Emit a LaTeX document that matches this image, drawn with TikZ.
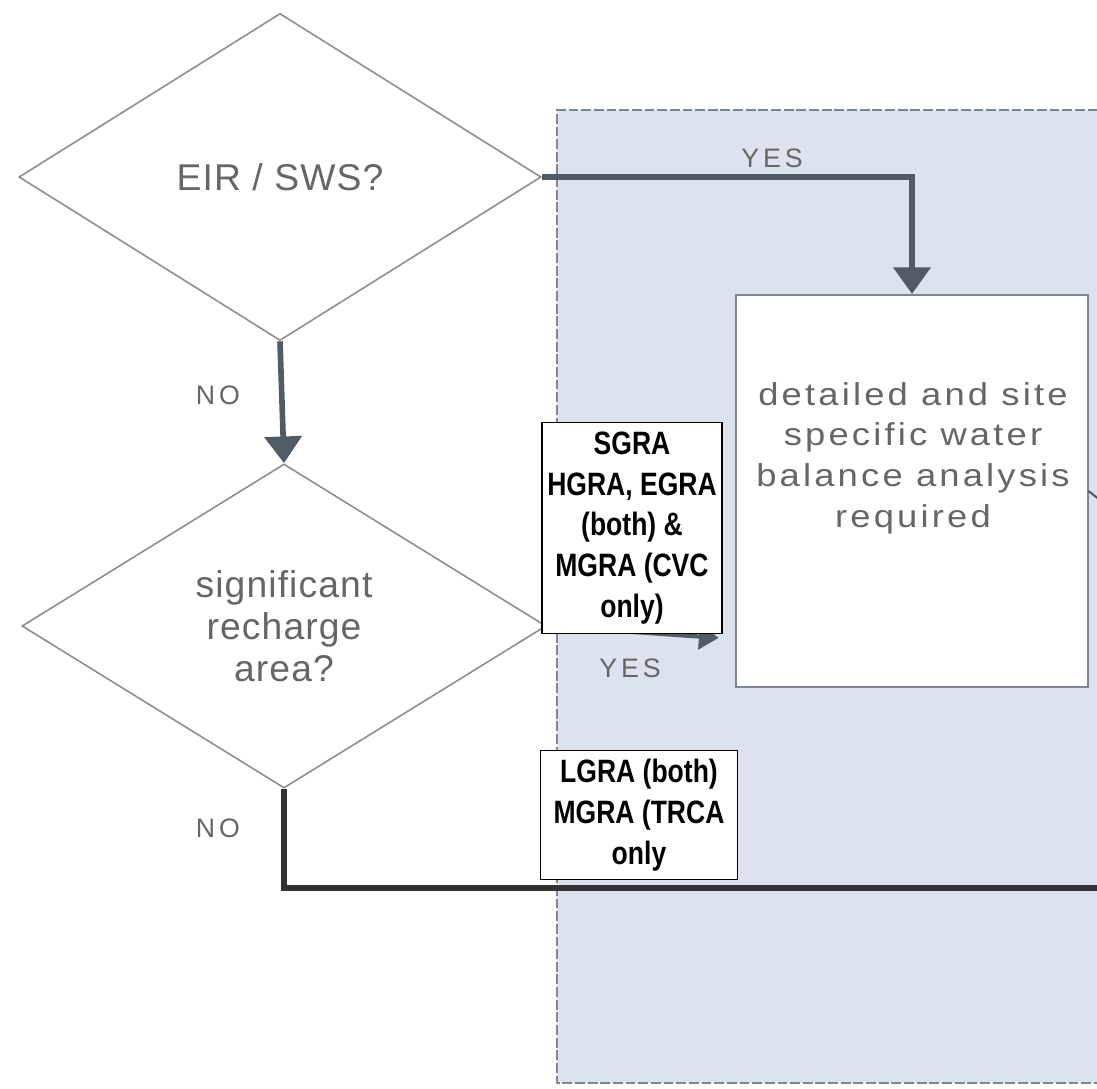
\documentclass[tikz,border=0pt]{standalone}
\usepackage{fontspec}
\setmainfont{Liberation Sans}
\newfontfamily\greyfont{Liberation Sans}[LetterSpace=3]
\newfontfamily\widefont{Liberation Sans}[FakeStretch=1.15,LetterSpace=10]
\newfontfamily\answerfont{Liberation Sans}[LetterSpace=15]
\newfontfamily\narrowfont{Liberation Sans}[FakeStretch=0.82]
\usetikzlibrary{shapes.geometric,arrows.meta,positioning}

\definecolor{regionfill}{HTML}{DCE3EF}
\definecolor{regionline}{HTML}{7F8690}
\definecolor{flowcol}{HTML}{515B66}
\definecolor{greytext}{HTML}{666666}
\definecolor{outline}{HTML}{8C8C8C}

\tikzset{
  decision/.style={diamond, draw=outline, line width=1.1pt, fill=white, inner sep=0pt,
    text=greytext, align=center, font=\greyfont\fontsize{26.5}{30}\selectfont},
  process/.style={rectangle, draw=regionline, line width=1.4pt, fill=white},
  areabox/.style={rectangle, draw=black, line width=0.9pt, fill=white, align=center,
    font=\narrowfont\bfseries\fontsize{23}{29}\selectfont},
  answer/.style={text=greytext, font=\answerfont\fontsize{19}{21}\selectfont},
  flow/.style={draw=flowcol, line width=4pt, -{Triangle[width=26pt,length=19pt]}},
}

\begin{document}
\begin{tikzpicture}[x=0.025cm,y=-0.025cm]
\useasboundingbox (0,0) rectangle (1097,1088);

% shaded region
\fill[regionfill] (557,110) rectangle (1110,1083);
\draw[regionline, line width=2pt, dash pattern=on 7pt off 2pt] (1110,110) -- (557,110) -- (557,1083) -- (1110,1083);

% decisions
\node[decision, minimum width=13.05cm, minimum height=8.175cm] (eir) at (280,177) {EIR / SWS?};
\node[decision, minimum width=13.1cm, minimum height=8.1cm] (recharge) at (284,626) {significant\\recharge\\area?};

% analysis box
\node[process, minimum width=8.775cm, minimum height=9.8cm] (analysis) at (912,491) {};
\node[text=greytext, align=center, font=\widefont\fontsize{22.5}{29}\selectfont] (analysistext) at (913,458)
  {detailed and site\\specific water\\balance analysis\\required};

\coordinate (rightedge) at (1100,500);
\coordinate (exitpt) at (1100,888);

% connectors
\draw[flow] (eir.east) -| (analysis.north);
\draw[flow] (eir.south) -- (recharge.north);
\draw[flow, line width=3pt, -{Triangle[width=18pt,length=14pt]}, shorten >=12pt] (recharge.east) -- ([yshift=-3.7cm]analysis.west);
\draw[draw=black!80, line width=4.5pt] (recharge.south) |- (exitpt);
\draw[flowcol, line width=1.5pt] (analysis.east) -- (rightedge);

% labels
\node[answer] (yes1) at (772,158) {YES};
\node[answer] (no1) at (218,395) {NO};
\node[answer] (yes2) at (630,668) {YES};
\node[answer] (no2) at (218,828) {NO};

% area boxes
\node[areabox, minimum width=4.5cm, minimum height=5.275cm] (sgra) at (632,528) {SGRA\\HGRA, EGRA\\(both) \&\\MGRA (CVC\\only)};
\node[areabox, minimum width=4.925cm, minimum height=3.225cm] (lgra) at (639,815) {LGRA (both)\\MGRA (TRCA\\only};
\end{tikzpicture}
\end{document}
